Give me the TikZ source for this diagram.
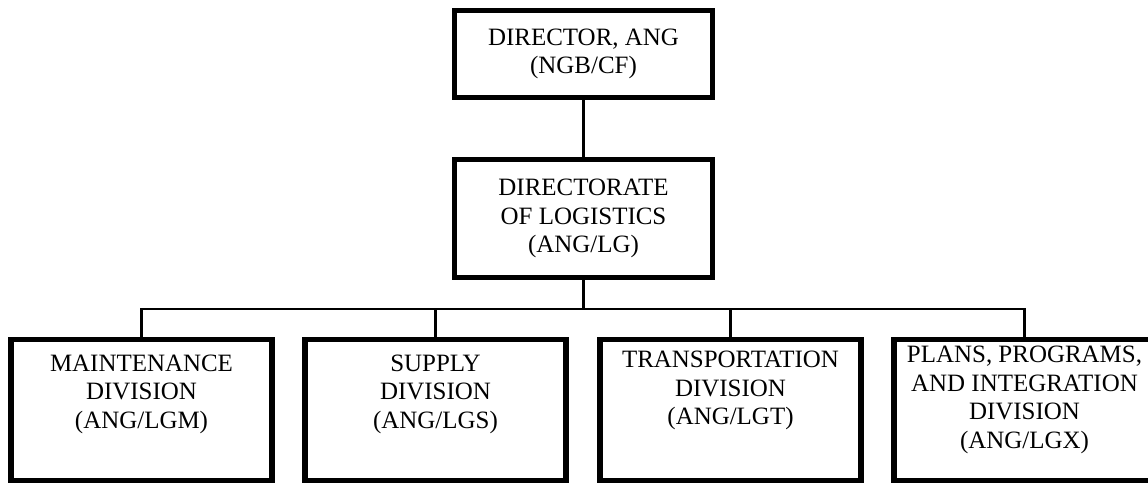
\documentclass[tikz,border=0pt]{standalone}
\usepackage{fontspec}
\setmainfont{Liberation Serif}
\usetikzlibrary{positioning}
\tikzset{
  org/.style={draw=black, line width=3.1pt, fill=white, align=center, inner sep=0pt,
              font=\fontsize{14.2}{16.2}\selectfont},
  org head/.style={org, minimum width=5.16cm},
  org div/.style={org, minimum width=5.22cm, minimum height=2.82cm},
  org txt/.style={align=center, inner sep=0pt, anchor=north, font=\fontsize{14.2}{16.2}\selectfont},
  org link/.style={line width=1.6pt},
}

\begin{document}
\begin{tikzpicture}[x=1cm, y=1cm]
  \useasboundingbox (0,0) rectangle (22.96,9.74);
  % director and the logistics directorate under it
  \node[org head, minimum height=1.74cm] (dir) at (11.67,8.66) {DIRECTOR, ANG\\(NGB/CF)};
  \node[org head, minimum height=2.36cm] (lg) at (11.67,5.37) {DIRECTORATE\\OF LOGISTICS\\(ANG/LG)};
  \draw[org link] (dir) -- (lg);
  % the four divisions, hung off one bus line
  \foreach \n/\x in {lgm/2.83, lgs/8.71, lgt/14.61, lgx/20.49}
    \node[org div] (\n) at (\x,1.54) {};
  \node[org txt] (lgm txt) at ([yshift=-0.35cm]lgm.north) {MAINTENANCE\\DIVISION\\(ANG/LGM)};
  \node[org txt] (lgs txt) at ([yshift=-0.35cm]lgs.north) {SUPPLY\\DIVISION\\(ANG/LGS)};
  \node[org txt] (lgt txt) at ([yshift=-0.28cm]lgt.north) {TRANSPORTATION\\DIVISION\\(ANG/LGT)};
  \node[org txt] (lgx txt) at ([yshift=-0.18cm]lgx.north) {PLANS, PROGRAMS,\\AND INTEGRATION\\DIVISION\\(ANG/LGX)};
  \coordinate (bus) at (0,3.56);
  \draw[org link] (lg.south) -- (lg.south |- bus);
  \draw[org link] (lgm.north) |- (lgx.north |- bus) -- (lgx.north);
  \foreach \n in {lgs,lgt} \draw[org link] (\n.north |- bus) -- (\n.north);
\end{tikzpicture}
\end{document}
